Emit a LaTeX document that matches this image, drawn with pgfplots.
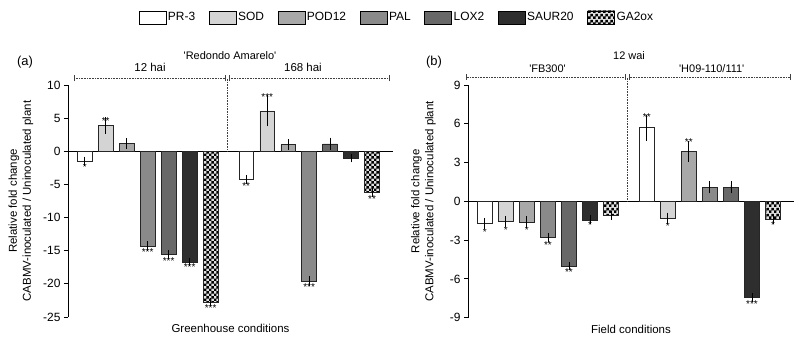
\documentclass[border=0pt]{standalone}
\usepackage{fontspec}
\setmainfont{Liberation Sans}
\usepackage{pgfplots}
\pgfplotsset{compat=1.18}
\usetikzlibrary{patterns}

\pgfdeclarepatternformonly{finechecker}{\pgfpointorigin}{\pgfqpoint{5.4bp}{5.4bp}}{\pgfqpoint{5.4bp}{5.4bp}}{%
  \pgfpathrectangle{\pgfpointorigin}{\pgfqpoint{2.75bp}{2.75bp}}%
  \pgfpathrectangle{\pgfqpoint{2.7bp}{2.7bp}}{\pgfqpoint{2.75bp}{2.75bp}}%
  \pgfusepath{fill}}

\definecolor{cPR}{HTML}{FFFFFF}
\definecolor{cSOD}{HTML}{D4D4D4}
\definecolor{cPOD}{HTML}{A8A8A8}
\definecolor{cPAL}{HTML}{8A8A8A}
\definecolor{cLOX}{HTML}{686868}
\definecolor{cSAUR}{HTML}{2E2E2E}

\tikzset{brk/.style={densely dotted, line width=0.6bp, black!75},
  brt/.style={black!75, line width=0.6bp}}
\pgfplotsset{
  panel/.style={scale only axis, clip=false,
    axis y line*=left, axis x line*=middle,
    xtick=\empty, xmin=-0.8, xmax=14.7,
    tick align=outside, major tick length=4bp,
    y tick label style={font=\fontsize{12}{13}\selectfont},
    /pgf/number format/assume math mode=true,
    axis line style={line width=1bp, black},
    every tick/.style={line width=1bp, black},
    every axis y label/.style={rotate=90, anchor=center, align=center, font=\fontsize{11.5}{14}\selectfont},
    every axis x label/.style={at={(axis description cs:0.5,-0.05)}, anchor=center, font=\fontsize{11.5}{13}\selectfont},
  },
  barst/.style={ybar, bar width=0.7, bar shift=0pt, draw=black!85, line width=0.6bp,
    error bars/y dir=both, error bars/y explicit,
    error bars/error bar style={line width=0.8bp, black},
    error bars/error mark options={mark size=4bp, line width=0.8bp, black}},
  stars/.style={forget plot, draw=none, mark=none, nodes near coords, point meta=explicit symbolic,
    every node near coord/.append style={anchor=center, font=\fontsize{10}{10}\selectfont, inner sep=0pt}},
}

\begin{document}
\begin{tikzpicture}
\path[use as bounding box] (0,0) rectangle (799bp,-343bp);

% ---------------- Panel (a) ----------------
\begin{axis}[panel, at={(68bp,-317bp)}, anchor=south west, width=325bp, height=232bp,
  ymin=-25, ymax=10, ytick={-25,-20,...,10},
  ylabel={Relative fold change\\CABMV-inoculated / Uninoculated plant},
  ylabel style={at={(axis description cs:-0.145,0.5)}},
  xlabel={Greenhouse conditions},
  legend columns=7,
  legend style={draw=none, fill=none, at={(1.011,1.291)}, anchor=center,
    font=\fontsize{12}{13}\selectfont, legend cell align=left,
    /tikz/every even column/.append style={column sep=12bp},
    nodes={inner sep=1.5bp}},
  legend image code/.code={\draw[#1, line width=0.9bp, draw=black] (0bp,-6.5bp) rectangle (27bp,6.5bp);},
]
\addplot[barst, fill=cPR] coordinates {(0,-1.5) +- (0,0.1) (7.7,-4.25) +- (0,0.05)};
\addlegendentry{PR-3}
\addplot[barst, fill=cSOD] coordinates {(1,3.9) +- (0,0.65) (8.7,6.1) +- (0,1.75)};
\addlegendentry{SOD}
\addplot[barst, fill=cPOD] coordinates {(2,1.15) +- (0,0.2) (9.7,1.0) +- (0,0.2)};
\addlegendentry{POD12}
\addplot[barst, fill=cPAL] coordinates {(3,-14.35) +- (0,0.15) (10.7,-19.55) +- (0,0.15)};
\addlegendentry{PAL}
\addplot[barst, fill=cLOX] coordinates {(4,-15.6) +- (0,0.1) (11.7,1.1) +- (0,0.35)};
\addlegendentry{LOX2}
\addplot[barst, fill=cSAUR] coordinates {(5,-16.7) +- (0,0.05) (12.7,-1.0) +- (0,0.05)};
\addlegendentry{SAUR20}
\addplot[barst, fill=black!12, postaction={pattern=finechecker, pattern color=black}] coordinates {(6,-22.75) +- (0,0.05) (13.7,-6.2) +- (0,0.05)};
\addlegendentry{GA2ox}
\addplot[stars] table[meta=l] {
x y l
0 -2.4 *
1 4.6 **
3 -15.2 ***
4 -16.5 ***
5 -17.5 ***
6 -23.6 ***
7.7 -5.25 **
8.7 8.2 ***
10.7 -20.5 ***
13.7 -7.2 **
};
% bracket and divider
\draw[brk] (axis cs:-0.5,11) -- (axis cs:6.69,11);
\draw[brk] (axis cs:6.88,11) -- (axis cs:14.5,11);
\draw[brt] ([yshift=-3bp]axis cs:-0.5,11) -- ([yshift=3bp]axis cs:-0.5,11);
\draw[brt] ([yshift=-3bp]axis cs:6.69,11) -- ([yshift=3bp]axis cs:6.69,11);
\draw[brt] ([yshift=-3bp]axis cs:6.88,11) -- ([yshift=3bp]axis cs:6.88,11);
\draw[brt] ([yshift=-3bp]axis cs:14.5,11) -- ([yshift=3bp]axis cs:14.5,11);
\draw[brk] (axis cs:6.79,0) -- (axis cs:6.79,11);
\end{axis}

% ---------------- Panel (b) ----------------
\begin{axis}[panel, at={(468bp,-317.7bp)}, anchor=south west, width=326bp, height=232.7bp,
  ymin=-9, ymax=9, ytick={-9,-6,...,9},
  ylabel={Relative fold change\\CABMV-inoculated / Uninoculated plant},
  ylabel style={at={(axis description cs:-0.137,0.5)}},
  xlabel={Field conditions},
]
\addplot[barst, fill=cPR] coordinates {(0,-1.7) +- (0,0.1) (7.7,5.7) +- (0,0.7)};
\addplot[barst, fill=cSOD] coordinates {(1,-1.55) +- (0,0.12) (8.7,-1.3) +- (0,0.12)};
\addplot[barst, fill=cPOD] coordinates {(2,-1.6) +- (0,0.12) (9.7,3.85) +- (0,0.5)};
\addplot[barst, fill=cPAL] coordinates {(3,-2.8) +- (0,0.05) (10.7,1.08) +- (0,0.15)};
\addplot[barst, fill=cLOX] coordinates {(4,-5.0) +- (0,0.03) (11.7,1.08) +- (0,0.15)};
\addplot[barst, fill=cSAUR] coordinates {(5,-1.43) +- (0,0.03) (12.7,-7.43) +- (0,0.03)};
\addplot[barst, fill=black!12, postaction={pattern=finechecker, pattern color=black}] coordinates {(6,-1.1) +- (0,0.03) (13.7,-1.38) +- (0,0.03)};
\addplot[stars] table[meta=l] {
x y l
0 -2.4 *
1 -2.25 *
2 -2.25 *
3 -3.35 **
4 -5.5 **
5 -1.85 *
7.7 6.55 **
8.7 -1.9 *
9.7 4.55 **
12.7 -7.95 ***
13.7 -1.85 *
};
\draw[brk] (axis cs:-0.86,9.62) -- (axis cs:6.69,9.62);
\draw[brk] (axis cs:6.88,9.62) -- (axis cs:14.5,9.62);
\draw[brt] ([yshift=-3bp]axis cs:-0.86,9.62) -- ([yshift=3bp]axis cs:-0.86,9.62);
\draw[brt] ([yshift=-3bp]axis cs:6.69,9.62) -- ([yshift=3bp]axis cs:6.69,9.62);
\draw[brt] ([yshift=-3bp]axis cs:6.88,9.62) -- ([yshift=3bp]axis cs:6.88,9.62);
\draw[brt] ([yshift=-3bp]axis cs:14.5,9.62) -- ([yshift=3bp]axis cs:14.5,9.62);
\draw[brk] (axis cs:6.79,0) -- (axis cs:6.79,9.62);
\end{axis}

% titles
\node[font=\fontsize{13}{14}\selectfont] at (25bp,-62bp) {(a)};
\node[font=\fontsize{11}{12}\selectfont] at (230bp,-56bp) {\textquotesingle Redondo Amarelo\textquotesingle};
\node[font=\fontsize{11.5}{12}\selectfont] at (150bp,-67.5bp) {12 hai};
\node[font=\fontsize{11.5}{12}\selectfont] at (303bp,-67.5bp) {168 hai};
\node[font=\fontsize{13}{14}\selectfont] at (434bp,-62bp) {(b)};
\node[font=\fontsize{11}{12}\selectfont] at (629bp,-56bp) {12 wai};
\node[font=\fontsize{11}{12}\selectfont] at (547.5bp,-69bp) {\textquotesingle FB300\textquotesingle};
\node[font=\fontsize{11}{12}\selectfont] at (711.7bp,-69bp) {\textquotesingle H09-110/111\textquotesingle};
\end{tikzpicture}
\end{document}
